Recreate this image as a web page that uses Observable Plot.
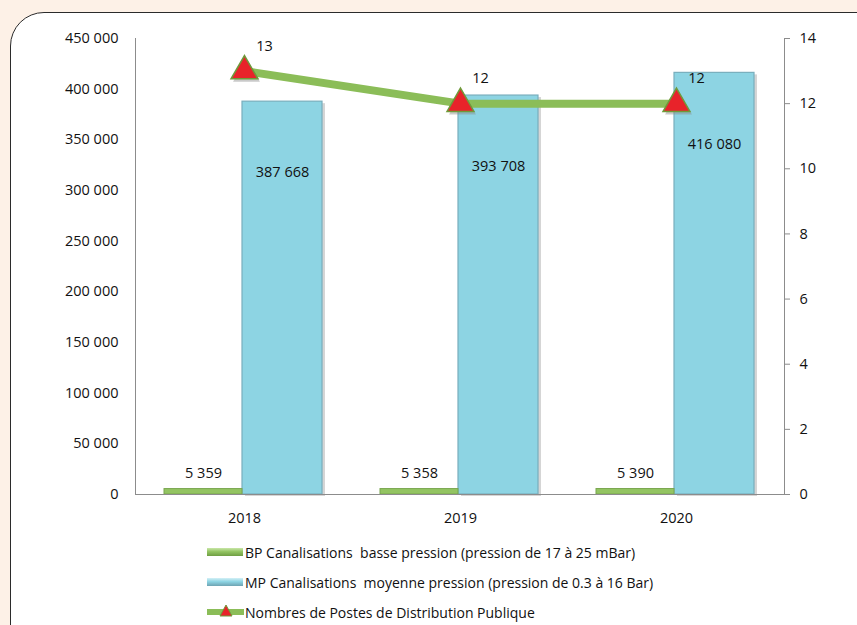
<!DOCTYPE html>
<html><head><meta charset="utf-8">
<script src="https://cdn.jsdelivr.net/npm/d3@7"></script>
<script src="https://cdn.jsdelivr.net/npm/@observablehq/plot@0.6"></script>
<style>
html,body{margin:0;padding:0;background:#fdf1e7;width:857px;height:625px;overflow:hidden;font-family:"Open Sans",sans-serif;}
#card{position:absolute;left:10px;top:12px;width:900px;height:700px;background:#fff;border:1.5px solid #2b2b2b;border-top-left-radius:34px;}
#chart{position:absolute;left:0;top:0;}
#legend{position:absolute;left:207px;top:537px;font-size:14px;color:#111;}
.row{height:30px;display:flex;align-items:center;white-space:pre;}
.sw{display:inline-block;width:36px;height:8px;margin-right:2px;}
</style></head>
<body><div id="card"></div><div id="chart"></div><div id="legend"></div>
<script>
const years = ["2018", "2019", "2020"];
const bpValues = [5359, 5358, 5390];
const mpValues = [387668, 393708, 416080];
const posteValues = [13, 12, 12];
const leftTicks = [0, 50000, 100000, 150000, 200000, 250000, 300000, 350000, 400000, 450000];
const rightTicks = [0, 2, 4, 6, 8, 10, 12, 14];
const seriesNames = [
  "BP Canalisations  basse pression (pression de 17 à 25 mBar)",
  "MP Canalisations  moyenne pression (pression de 0.3 à 16 Bar)",
  "Nombres de Postes de Distribution Publique"
];

const leftMax = 450000, rightMax = 14;
const k = leftMax / rightMax;
const fmt = d => d3.format(",")(d).replace(/,/g, "\u00a0");

const bp = years.map((y, i) => ({year: y, value: bpValues[i]}));
const mp = years.map((y, i) => ({year: y, value: mpValues[i]}));
const postes = years.map((y, i) => ({year: y, value: posteValues[i]}));

const green = "#93c462", blue = "#8dd4e3", lineGreen = "#8bbd58", red = "#e8232a";
const FS = 14.5;

const chart = Plot.plot({
  width: 857, height: 530,
  marginTop: 38, marginBottom: 36, marginLeft: 135, marginRight: 73,
  style: {background: "transparent", fontFamily: "'Open Sans', sans-serif", fontSize: FS + "px", color: "#111"},
  x: {type: "band", domain: years, padding: 0, label: null},
  y: {domain: [0, leftMax], label: null},
  marks: [
    Plot.frame({anchor: "left", stroke: "#8c8c8c"}),
    Plot.frame({anchor: "right", stroke: "#8c8c8c"}),
    Plot.barY(mp, {x: "year", y: "value", fill: "#b9b9b9", fillOpacity: 0.6, insetLeft: 109, insetRight: 27, dy: 2}),
    Plot.barY(mp, {x: "year", y: "value", fill: blue, stroke: "#79aebd", strokeWidth: 1.2, insetLeft: 106, insetRight: 30}),
    Plot.barY(bp, {x: "year", y: "value", fill: green, stroke: "#79a64e", strokeWidth: 1, insetLeft: 28, insetRight: 110}),
    Plot.ruleY([0], {stroke: "#8c8c8c"}),
    Plot.axisY(leftTicks, {anchor: "left", tickSize: 0, tickPadding: 17, tickFormat: fmt, label: null, fontSize: FS}),
    Plot.axisY(rightTicks, {anchor: "right", y: d => d * k, tickFormat: d => d, tickSize: 5, tickPadding: 10, stroke: "#8c8c8c", label: null, fontSize: FS}),
    Plot.axisX({tickSize: 0, tickPadding: 18, label: null, fontSize: FS}),
    Plot.text(bp, {x: "year", y: "value", text: d => fmt(d.value), dx: -41, dy: -16, fontSize: FS, fill: "#111"}),
    Plot.text(mp, {x: "year", y: "value", text: d => fmt(d.value), dx: 38, dy: 71, fontSize: FS, fill: "#111"}),
    Plot.line(postes, {x: "year", y: d => d.value * k, stroke: lineGreen, strokeWidth: 8}),
    Plot.dot(postes, {x: "year", y: d => d.value * k, symbol: "triangle", r: 10, fill: "#8a8a8a", fillOpacity: 0.45, dx: 2, dy: 3}),
    Plot.dot(postes, {x: "year", y: d => d.value * k, symbol: "triangle", r: 10, fill: red, stroke: "#6f9a3a", strokeWidth: 1.5}),
    Plot.text(postes, {x: "year", y: d => d.value * k, text: d => String(d.value), dx: 20, dy: -25, fontSize: FS, fill: "#111"})
  ]
});
document.getElementById("chart").appendChild(chart);

const sw = [
  `<span class="sw" style="background:linear-gradient(#c9e6a8,${green} 45%,#6f9e43)"></span>`,
  `<span class="sw" style="background:linear-gradient(#d4f0f6,${blue} 45%,#6ea3b2)"></span>`,
  `<svg width="38" height="20"><line x1="0" y1="10" x2="37" y2="10" stroke="${lineGreen}" stroke-width="6"/><path d="M19,3 L25,14 L13,14 Z" fill="${red}" stroke="#6f9a3a" stroke-width="1"/></svg>`
];
document.getElementById("legend").innerHTML = seriesNames.map((n, i) =>
  `<div class="row">${sw[i]}<span>${n}</span></div>`).join("");
</script>
</body></html>
